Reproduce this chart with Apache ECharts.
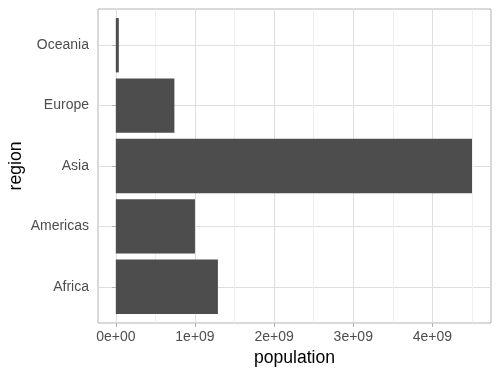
<!DOCTYPE html>
<html>
<head>
<meta charset="utf-8">
<script src="https://cdn.jsdelivr.net/npm/echarts@6/dist/echarts.min.js"></script>
<style>
  html, body { margin: 0; padding: 0; background: #fff; }
  #chart { width: 500px; height: 375px; }
</style>
</head>
<body>
<div id="chart"></div>
<script>
// data
const regions = ["Africa", "Americas", "Asia", "Europe", "Oceania"];
const population = [1.29e9, 1.0e9, 4.5e9, 0.74e9, 0.038e9];
const xTickValues = [0, 1e9, 2e9, 3e9, 4e9];
const xTickLabels = ["0e+00", "1e+09", "2e+09", "3e+09", "4e+09"];
const xMinorValues = [0.5e9, 1.5e9, 2.5e9, 3.5e9, 4.5e9];
const yTickValues = [1, 2, 3, 4, 5];

const chart = echarts.init(document.getElementById("chart"));

const textFont = "Liberation Sans, Arial, sans-serif";

const option = {
  animation: false,
  grid: {
    left: 98,
    right: 9,
    top: 9,
    bottom: 52,
    outerBoundsMode: "none",
    containLabel: false,
    show: true,
    borderColor: "#B3B3B3",
    borderWidth: 1,
    backgroundColor: "transparent",
  },
  xAxis: [
    {
      type: "value",
      min: -0.225e9,
      max: 4.74e9,
      name: "population",
      nameLocation: "middle",
      nameGap: 26,
      nameMoveOverlap: false,
      nameTextStyle: { color: "#000", fontSize: 17.6, fontFamily: textFont },
      axisLine: { show: false },
      axisTick: {
        show: true,
        length: 4,
        customValues: xTickValues,
        lineStyle: { color: "#B3B3B3" },
      },
      axisLabel: {
        customValues: xTickValues,
        margin: 7,
        color: "#4D4D4D",
        fontSize: 14,
        fontFamily: textFont,
        formatter: (v) => xTickLabels[xTickValues.indexOf(v)],
      },
      splitLine: { show: true, lineStyle: { color: "#DEDEDE", width: 1 } },
    },
    {
      // minor grid lines
      type: "value",
      position: "bottom",
      min: -0.225e9,
      max: 4.74e9,
      axisLine: { show: false },
      axisTick: { show: false, customValues: xMinorValues },
      axisLabel: { show: false, customValues: xMinorValues },
      splitLine: { show: true, lineStyle: { color: "#EEEEEE", width: 1 } },
    },
  ],
  yAxis: {
    type: "value",
    min: 0.4,
    max: 5.6,
    name: "region",
    nameLocation: "middle",
    nameGap: 73,
    nameMoveOverlap: false,
    nameTextStyle: { color: "#000", fontSize: 17.6, fontFamily: textFont },
    axisLine: { show: false },
    axisTick: {
      show: true,
      length: 4,
      customValues: yTickValues,
      lineStyle: { color: "#B3B3B3" },
    },
    axisLabel: {
      customValues: yTickValues,
      margin: 9,
      color: "#4D4D4D",
      fontSize: 14,
      fontFamily: textFont,
      formatter: (v) => regions[v - 1],
    },
    splitLine: { show: true, lineStyle: { color: "#DEDEDE", width: 1 } },
  },
  series: [
    {
      type: "custom",
      xAxisIndex: 0,
      encode: { x: 0, y: 1 },
      data: population.map((v, i) => [v, i + 1]),
      renderItem: function (params, api) {
        const start = api.coord([0, api.value(1)]);
        const end = api.coord([api.value(0), api.value(1)]);
        const h = api.size([0, 0.9])[1];
        return {
          type: "rect",
          shape: {
            x: start[0],
            y: start[1] - h / 2,
            width: end[0] - start[0],
            height: h,
          },
          style: { fill: "#4D4D4D" },
        };
      },
    },
  ],
};

chart.setOption(option);
</script>
</body>
</html>
